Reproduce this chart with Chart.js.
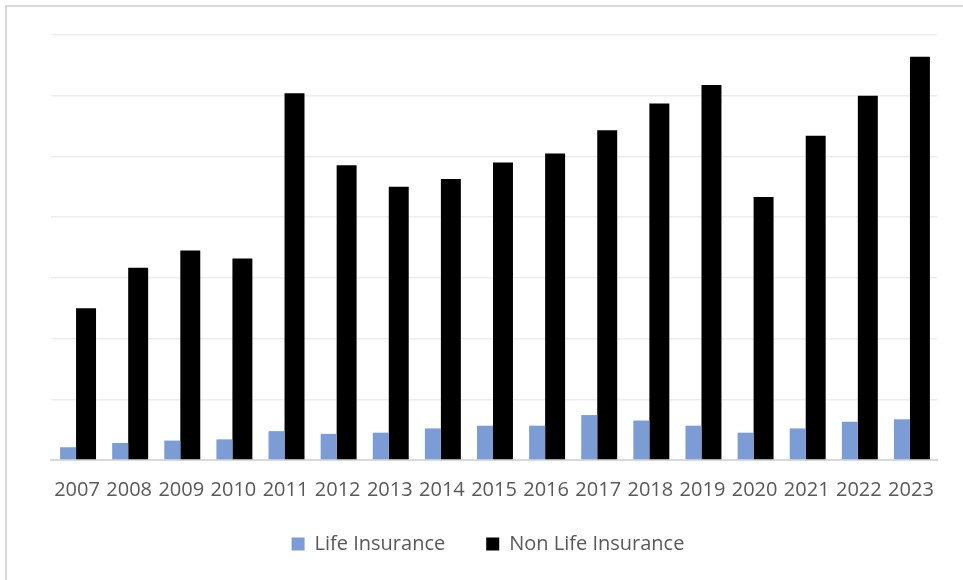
<!DOCTYPE html>
<html>
<head>
<meta charset="utf-8">
<script src="https://cdn.jsdelivr.net/npm/chart.js@4.4.1/dist/chart.umd.min.js"></script>
<style>
  html, body { margin: 0; padding: 0; background: #fff; overflow: hidden; }
  #wrap { position: relative; width: 963px; height: 580px; }
  #frame { position: absolute; left: 5px; top: 5px; width: 1000px; height: 640px; border: 2px solid #d9d9d9; box-sizing: border-box; }
  #insChart { position: absolute; left: 0; top: 0; }
</style>
</head>
<body>
<div id="wrap">
  <div id="frame"></div>
  <canvas id="insChart" width="963" height="580"></canvas>
</div>
<script>
// years on the x axis
const years = ['2007', '2008', '2009', '2010', '2011', '2012', '2013', '2014', '2015',
               '2016', '2017', '2018', '2019', '2020', '2021', '2022', '2023'];
// values (no axis labels shown, 10 units per gridline)
const lifeInsurance = [2.1, 2.8, 3.2, 3.4, 4.75, 4.3, 4.5, 5.2, 5.65,
                       5.65, 7.4, 6.5, 5.65, 4.5, 5.2, 6.3, 6.7];
const nonLifeInsurance = [25.0, 31.65, 34.5, 33.2, 60.4, 48.55, 45.0, 46.3, 49.0,
                          50.5, 54.3, 58.7, 61.75, 43.3, 53.4, 60.0, 66.4];

const textGray = '#595959';
const fontName = "'Open Sans', 'Liberation Sans', sans-serif";

// pull the legend up closer to the year labels and a bit to the left
const legendShift = {
    id: 'legendShift',
    afterLayout(chart) {
        chart.legend.top -= 10;
        chart.legend.bottom -= 10;
        chart.legend.left -= 6;
        chart.legend.right -= 6;
    }
};

var ctx = document.getElementById('insChart').getContext('2d');
var insChart = new Chart(ctx, {
    type: 'bar',
    data: {
        labels: years,
        datasets: [{
            label: 'Life Insurance',
            data: lifeInsurance,
            backgroundColor: '#7b9cd5',
            barPercentage: 0.89,
            categoryPercentage: 0.69
        }, {
            label: 'Non Life Insurance',
            data: nonLifeInsurance,
            backgroundColor: '#000000',
            barPercentage: 1.11,
            categoryPercentage: 0.69
        }]
    },
    options: {
        responsive: false,
        animation: false,
        layout: {
            padding: { left: 51, right: 26, top: 35, bottom: 6 }
        },
        plugins: {
            tooltip: { enabled: false },
            legend: {
                position: 'bottom',
                labels: {
                    boxWidth: 13,
                    boxHeight: 13,
                    padding: 41,
                    color: textGray,
                    font: { family: fontName, size: 20 }
                }
            }
        },
        scales: {
            x: {
                grid: { display: false, drawTicks: false },
                border: { color: '#d9d9d9', width: 2 },
                ticks: {
                    color: textGray,
                    font: { family: fontName, size: 20 },
                    maxRotation: 0,
                    autoSkip: false,
                    padding: 18
                },
                afterFit(scale) {
                    scale.height = 43;
                }
            },
            y: {
                min: 0,
                max: 70,
                ticks: { display: false, stepSize: 10 },
                grid: { color: '#eeeeee', lineWidth: 1.5, drawTicks: false },
                border: { display: false }
            }
        }
    },
    plugins: [legendShift]
});
</script>
</body>
</html>
